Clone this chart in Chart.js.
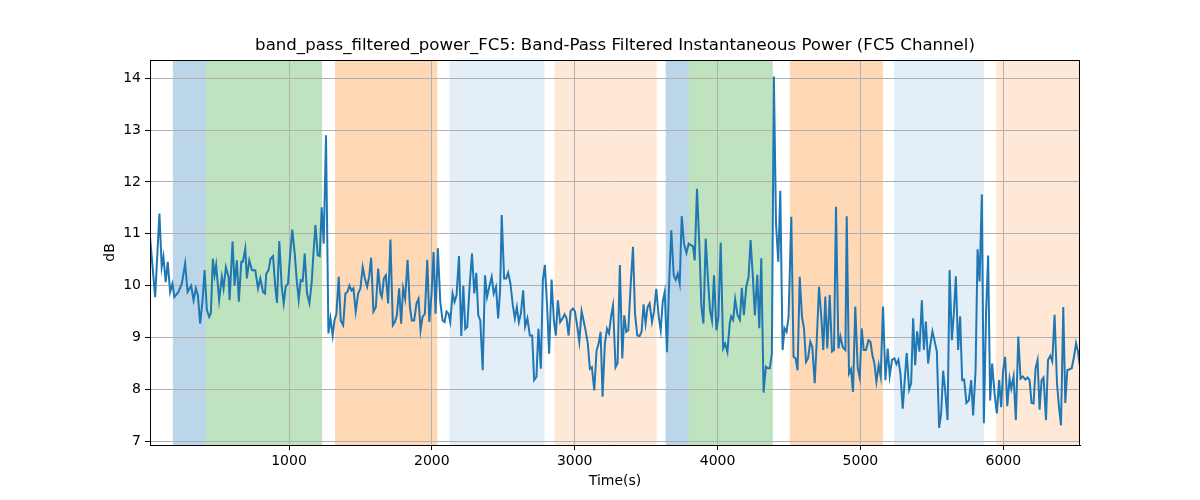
<!DOCTYPE html>
<html>
<head>
<meta charset="utf-8">
<script src="https://cdn.jsdelivr.net/npm/chart.js@4.4.1/dist/chart.umd.min.js"></script>
<style>
html, body { margin: 0; padding: 0; background: #fff; }
</style>
</head>
<body>
<canvas id="chart" width="1200" height="500"></canvas>
<script>
// time (s) and band-pass power (dB)
const times = [
  27, 63, 93, 109, 121, 137, 151, 168, 184, 198, 226, 250, 273, 290, 315, 332, 348, 362, 378, 395,
  409, 425, 441, 453, 467, 479, 490, 511, 530, 542, 558, 577, 584, 605, 619, 635, 649, 666, 677, 694,
  705, 722, 741, 764, 783, 799, 818, 832,
  841, 857, 871, 888, 904, 916, 932, 949, 963, 977, 993, 1007, 1023, 1040, 1054, 1068, 1082, 1096, 1110, 1126,
  1143, 1159, 1171, 1185, 1201, 1215, 1229, 1243, 1259, 1276, 1290, 1306, 1318, 1332, 1348, 1362, 1379, 1395, 1409, 1423,
  1437, 1451, 1467, 1484, 1500, 1516, 1531, 1547, 1561, 1575, 1591, 1608, 1624, 1640,
  1650, 1664, 1678, 1694, 1710, 1727, 1741, 1755, 1771, 1785, 1799, 1813, 1830, 1846, 1860, 1876, 1893, 1907, 1921, 1935,
  1951, 1968, 1982, 1998, 2012, 2026, 2042, 2059, 2075, 2089, 2103, 2117, 2129, 2145, 2159, 2173, 2190, 2206, 2220, 2234,
  2248, 2264, 2281, 2297, 2311, 2325, 2339, 2356, 2372, 2386, 2402, 2419, 2433, 2449,
  2464, 2478, 2489, 2506, 2520, 2534, 2550, 2567, 2581, 2595, 2609, 2623, 2639, 2653, 2669, 2686, 2702, 2716, 2732, 2746,
  2763, 2777, 2791, 2807, 2821, 2838, 2854, 2868, 2882, 2898, 2915, 2929, 2943, 2957, 2971, 2987, 3001, 3015, 3032, 3048,
  3062, 3078, 3092, 3106, 3120, 3137, 3153, 3167, 3181, 3195, 3211, 3226, 3240, 3254, 3268,
  3286, 3300, 3316, 3333, 3347, 3361, 3375, 3391, 3408, 3422, 3438, 3454, 3468, 3482, 3496, 3510, 3524, 3541, 3555, 3571,
  3588, 3602, 3616, 3630, 3646, 3660, 3676, 3693, 3707, 3721, 3735, 3749, 3765, 3782, 3798, 3814, 3828, 3840, 3856, 3873,
  3887, 3901, 3917, 3933, 3947, 3961, 3975, 3992, 4006, 4022, 4039, 4053, 4069, 4085,
  4095, 4109, 4123, 4140, 4156, 4170, 4184, 4201, 4217, 4231, 4247, 4261, 4278, 4292, 4306, 4322, 4338, 4352, 4366, 4380,
  4394, 4409, 4425, 4439, 4455, 4469, 4483, 4497, 4516, 4532, 4546, 4560, 4575, 4591, 4605, 4619, 4633, 4649, 4663, 4680,
  4694, 4710, 4726, 4740, 4754, 4768, 4785, 4801, 4815, 4829, 4846, 4860, 4876, 4895,
  4904, 4920, 4934, 4948, 4964, 4981, 4995, 5009, 5023, 5039, 5056, 5070, 5084, 5098, 5112, 5128, 5142, 5158, 5175, 5191,
  5205, 5221, 5238, 5252, 5266, 5280, 5296, 5310, 5324, 5341, 5355, 5369, 5383, 5397, 5413, 5430, 5444, 5458, 5474, 5488,
  5504, 5518, 5535, 5551, 5565, 5579, 5593, 5610, 5624, 5640, 5654, 5668, 5684, 5698, 5712,
  5726, 5742, 5759, 5775, 5789, 5806, 5820, 5834, 5850, 5864, 5880, 5894, 5908, 5922, 5939, 5955, 5971, 5985, 5999, 6013,
  6028, 6044, 6056, 6072, 6088, 6105, 6121, 6137, 6154, 6170, 6184, 6198, 6212, 6226, 6240, 6254, 6268, 6282, 6299, 6313,
  6329, 6343, 6359, 6376, 6390, 6404, 6420, 6434, 6448, 6464, 6479, 6495, 6509, 6523, 6537
];
const power = [
  10.94, 9.78, 11.39, 10.36, 10.56, 10.07, 10.46, 9.88, 10.04, 9.78, 9.88, 10.04, 10.43, 9.88, 10.0, 9.72, 9.95, 9.82, 9.27, 9.72,
  10.3, 9.53, 9.40, 9.47, 10.52, 10.2, 10.4, 9.72, 10.17, 9.95, 10.36, 10.17, 9.72, 10.85, 10.0, 10.49, 9.69, 10.46, 10.46, 10.72,
  10.14, 10.49, 10.3, 10.3, 9.95, 10.14, 9.88, 9.85,
  10.23, 10.3, 10.52, 10.57, 9.98, 9.67, 10.86, 9.98, 9.66, 9.98, 10.04, 10.56, 11.08, 10.62, 10.11, 9.73, 10.11, 10.09, 10.62, 9.85,
  9.66, 10.07, 10.62, 11.17, 10.59, 10.57, 11.51, 10.81, 12.9, 9.08, 9.37, 9.04, 9.33, 9.46, 10.17, 9.33, 9.24, 9.85, 9.88, 10.0,
  9.91, 9.95, 9.5, 9.85, 9.95, 10.36, 10.14, 9.98, 10.17, 10.54, 9.5, 9.59, 10.33, 9.85,
  9.78, 10.14, 10.2, 9.66, 10.89, 9.24, 9.3, 9.43, 9.95, 9.27, 9.95, 9.75, 10.5, 9.59, 9.33, 9.33, 9.66, 9.75, 9.14, 9.4,
  9.46, 10.5, 9.3, 9.85, 10.65, 9.46, 10.72, 9.69, 9.33, 9.3, 9.5, 9.46, 9.3, 9.85, 9.69, 9.82, 10.57, 9.03, 10.0, 9.17,
  9.21, 9.98, 10.62, 9.85, 10.25, 9.43, 9.33, 8.37, 10.2, 9.78, 9.98, 10.17, 9.85, 9.98,
  9.37, 9.92, 11.36, 10.14, 10.14, 10.25, 10.04, 9.62, 9.37, 9.59, 9.3, 9.46, 9.91, 9.21, 9.37, 9.04, 9.04, 8.18, 8.24, 9.17,
  8.4, 10.11, 10.4, 9.59, 8.69, 10.12, 9.33, 9.04, 9.72, 9.3, 9.37, 9.45, 9.37, 9.04, 9.51, 9.56, 9.51, 9.27, 8.92, 9.51,
  9.33, 9.11, 8.88, 8.4, 8.43, 7.98, 8.75, 8.88, 9.11, 7.86, 8.88, 9.17, 9.08, 9.4, 9.62,
  8.43, 8.51, 10.4, 8.6, 9.43, 9.11, 9.14, 9.98, 10.75, 9.46, 9.04, 9.03, 9.11, 9.64, 9.27, 9.59, 9.66, 9.3, 9.5, 9.94,
  9.4, 9.14, 9.69, 9.88, 8.72, 9.98, 11.07, 10.2, 10.11, 10.23, 10.04, 11.34, 10.81, 10.63, 10.81, 10.78, 10.76, 10.49, 11.87, 10.75,
  9.59, 9.27, 10.91, 10.11, 9.53, 9.33, 10.2, 9.14, 9.4, 10.83, 8.79, 8.88, 8.72, 9.27,
  9.41, 9.34, 9.74, 9.43, 9.34, 9.96, 9.43, 9.98, 10.17, 10.88, 10.17, 9.43, 10.21, 9.18, 10.53, 7.94, 8.44, 8.41, 8.41, 8.69,
  14.03, 11.2, 10.46, 11.83, 8.76, 9.18, 9.11, 9.4, 11.33, 8.63, 8.6, 8.37, 10.17, 9.4, 9.18, 8.53, 8.6, 8.92, 8.82, 8.12,
  8.92, 9.98, 9.4, 8.76, 9.79, 8.79, 9.82, 8.73, 8.76, 11.52, 8.79, 9.02, 8.82, 8.76,
  11.34, 8.31, 8.39, 7.95, 9.6, 8.41, 8.23, 9.18, 8.76, 8.76, 8.95, 8.92, 8.66, 8.5, 8.15, 8.47, 8.25, 9.6, 8.18, 8.79,
  8.26, 8.57, 8.6, 8.49, 8.57, 8.31, 7.63, 8.18, 8.7, 8.0, 8.12, 9.37, 8.47, 9.12, 8.73, 9.72, 8.76, 9.31, 8.5, 8.83,
  9.12, 8.95, 8.73, 7.26, 7.54, 8.36, 7.99, 7.41, 10.3, 8.95, 9.47, 10.18, 8.76, 9.41, 8.18,
  8.19, 7.74, 7.79, 8.18, 7.5, 8.37, 10.7, 10.08, 11.76, 7.35, 9.54, 10.58, 7.79, 8.5, 7.92, 7.54, 8.18, 7.66, 8.37, 8.63,
  7.68, 8.21, 8.02, 8.25, 7.41, 9.02, 8.21, 8.25, 8.19, 8.23, 8.18, 7.74, 7.73, 8.41, 8.57, 7.61, 8.18, 8.23, 7.41, 8.57,
  8.65, 8.54, 9.44, 8.12, 7.66, 7.31, 9.59, 7.74, 8.37, 8.39, 8.41, 8.63, 8.89, 8.73, 8.44
];

// shaded phases (start / end in seconds)
const bandStart = [187, 418, 1322, 2123, 2858, 3637, 3798, 4506, 5235, 5950];
const bandEnd   = [418, 1232, 2038, 2789, 3574, 3798, 4387, 5158, 5866, 6540];
const bandType  = ['blue', 'green', 'orange', 'lightblue', 'lightorange',
                   'blue', 'green', 'orange', 'lightblue', 'lightorange'];

const xTicks = [1000, 2000, 3000, 4000, 5000, 6000];
const yTicks = [7, 8, 9, 10, 11, 12, 13, 14];

const chartTitle = 'band_pass_filtered_power_FC5: Band-Pass Filtered Instantaneous Power (FC5 Channel)';

const bandColors = {
  blue: 'rgba(31,119,180,0.3)',
  green: 'rgba(44,160,44,0.3)',
  orange: 'rgba(255,127,14,0.3)',
  lightblue: 'rgba(31,119,180,0.12)',
  lightorange: 'rgba(255,127,14,0.17)'
};

const font = 'DejaVu Sans';

const bandPlugin = {
  id: 'bands',
  beforeDraw(chart) {
    const { ctx, chartArea: a, scales: { x } } = chart;
    ctx.save();
    ctx.beginPath();
    ctx.rect(a.left, a.top, a.right - a.left, a.bottom - a.top);
    ctx.clip();
    bandStart.forEach((s, i) => {
      const x0 = x.getPixelForValue(s);
      const x1 = x.getPixelForValue(bandEnd[i]);
      ctx.fillStyle = bandColors[bandType[i]];
      ctx.fillRect(x0, a.top, x1 - x0, a.bottom - a.top);
    });
    ctx.restore();
  },
  afterDraw(chart) {
    const { ctx, chartArea: a } = chart;
    ctx.save();
    ctx.strokeStyle = '#000';
    ctx.lineWidth = 1;
    ctx.strokeRect(a.left + 0.5, a.top + 0.5, a.right - a.left - 1, a.bottom - a.top);
    // title centred over the plot area
    ctx.fillStyle = '#000';
    ctx.font = '16.6px "' + font + '"';
    ctx.textAlign = 'center';
    ctx.textBaseline = 'middle';
    ctx.fillText(chartTitle, (a.left + a.right) / 2, 46);
    ctx.restore();
  }
};

new Chart(document.getElementById('chart'), {
  type: 'line',
  data: {
    datasets: [{
      data: times.map((t, i) => ({ x: t, y: power[i] })),
      borderColor: '#1f77b4',
      borderWidth: 2,
      pointRadius: 0,
      tension: 0,
      fill: false
    }]
  },
  options: {
    responsive: false,
    devicePixelRatio: 1,
    animation: false,
    layout: { padding: { left: 95, right: 120, top: 60, bottom: 7 } },
    plugins: {
      legend: { display: false },
      tooltip: { enabled: false },
      title: { display: false }
    },
    scales: {
      x: {
        type: 'linear',
        min: times[0],
        max: times[times.length - 1],
        afterBuildTicks: s => { s.ticks = xTicks.map(v => ({ value: v })); },
        afterFit: s => { s.height = 48; },
        ticks: { color: '#000', font: { family: font, size: 14 }, padding: 3, maxRotation: 0, callback: v => String(v) },
        grid: { color: '#b0b0b0', lineWidth: 1, tickLength: 5, tickColor: '#000' },
        border: { display: true, color: '#000' },
        title: { display: true, text: 'Time(s)', color: '#000', font: { family: font, size: 14 }, padding: { top: 2, bottom: 3 } }
      },
      y: {
        min: 6.93,
        max: 14.35,
        afterBuildTicks: s => { s.ticks = yTicks.map(v => ({ value: v })); },
        afterFit: s => { s.width = 55; },
        ticks: { color: '#000', font: { family: font, size: 14 }, padding: 4, callback: v => String(v) },
        grid: { color: '#b0b0b0', lineWidth: 1, tickLength: 5, tickColor: '#000' },
        border: { display: true, color: '#000' },
        title: { display: true, text: 'dB', color: '#000', font: { family: font, size: 14 }, padding: { top: 7, bottom: 4 } }
      }
    }
  },
  plugins: [bandPlugin]
});
</script>
</body>
</html>
